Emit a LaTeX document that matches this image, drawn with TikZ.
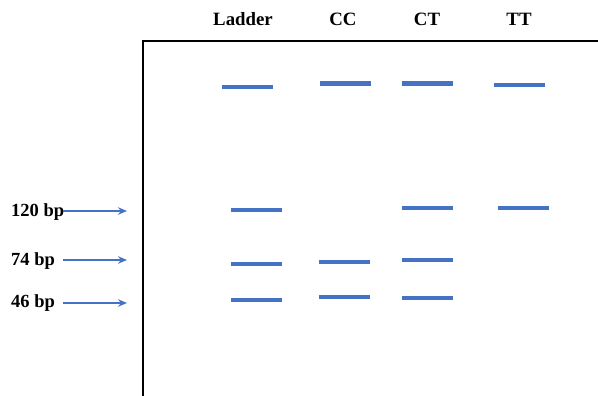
\documentclass[tikz,border=0pt]{standalone}
\usepackage{fontspec}
\setmainfont{Liberation Serif}
\usetikzlibrary{arrows.meta}
\definecolor{bandblue}{HTML}{4472C4}
\begin{document}
\begin{tikzpicture}[x=1pt,y=-1pt,
  band/.style={rectangle,fill=bandblue,minimum width=51pt,minimum height=4.2pt,inner sep=0pt},
  lane/.style={font=\bfseries\fontsize{18.8}{22}\selectfont,inner sep=0pt},
  size/.style={font=\bfseries\fontsize{18.5}{22}\selectfont,inner sep=0pt,anchor=west},
  marker/.style={draw=bandblue,line width=1.7pt,-{Stealth[length=9pt,width=7.5pt]}}]
\useasboundingbox (0,0) rectangle (598,396);
% gel frame
\draw[line width=2.2pt] (143,400) -- (143,41) -- (600,41);
% lane labels
\node[lane] (ladder) at (243,19.5) {Ladder};
\node[lane] (cc) at (343,19.5) {CC};
\node[lane] (ct) at (427,19.5) {CT};
\node[lane] (tt) at (519,19.5) {TT};
% wells / top bands
\node[band] (l0) at (247.5,87) {};
\node[band] (c0) at (345,83.5) {};
\node[band] (t0) at (427.5,83.5) {};
\node[band] (u0) at (519.5,85) {};
% 120 bp
\node[band] (l1) at (256.5,210) {};
\node[band] (t1) at (427.5,208) {};
\node[band] (u1) at (523.5,208) {};
% 74 bp
\node[band] (l2) at (256.5,264) {};
\node[band] (c2) at (344.5,262) {};
\node[band] (t2) at (427.5,260) {};
% 46 bp
\node[band] (l3) at (256.5,300) {};
\node[band] (c3) at (344.5,297) {};
\node[band] (t3) at (427.5,298) {};
% size markers
\node[size] (s120) at (11,212) {120 bp};
\node[size] (s74) at (11,261) {74 bp};
\node[size] (s46) at (11,303) {46 bp};
\coordinate (a1) at (63,211);
\coordinate (b1) at (127,211);
\coordinate (a2) at (63,260);
\coordinate (b2) at (127,260);
\coordinate (a3) at (63,303);
\coordinate (b3) at (127,303);
\draw[marker] (a1) -- (b1);
\draw[marker] (a2) -- (b2);
\draw[marker] (a3) -- (b3);
\end{tikzpicture}
\end{document}
